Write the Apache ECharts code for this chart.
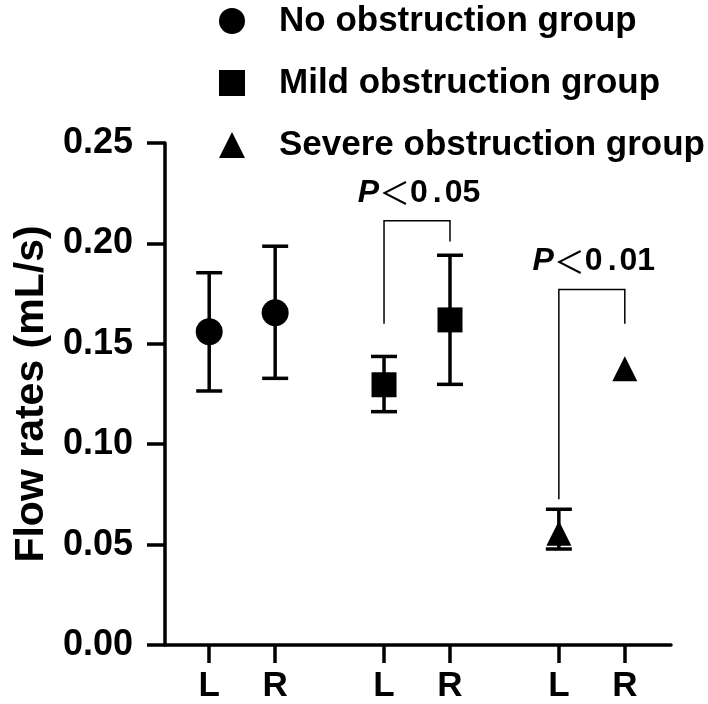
<!DOCTYPE html>
<html>
<head>
<meta charset="utf-8">
<script src="https://cdn.jsdelivr.net/npm/echarts@6/dist/echarts.min.js"></script>
<style>
  html, body { margin: 0; padding: 0; background: #fff; }
  #chart { width: 708px; height: 704px; }
</style>
</head>
<body>
<div id="chart"></div>
<script>
// x positions of the six L/R columns (three groups with a gap between them)
const sides = ["L", "R", "L", "R", "L", "R"];
const xPos = [1, 2, 3.65, 4.65, 6.3, 7.3];
const yTicks = [0, 0.05, 0.1, 0.15, 0.2, 0.25];

const groupNames = ["No obstruction group", "Mild obstruction group", "Severe obstruction group"];
const groupSymbols = ["circle", "rect", "triangle"];

// mean and error bar ends for L / R
const noMean = [0.156, 0.1655];
const noLow = [0.1265, 0.1328];
const noHigh = [0.1854, 0.1986];

const mildMean = [0.1296, 0.1619];
const mildLow = [0.1162, 0.1298];
const mildHigh = [0.1437, 0.1941];

const severeMean = [0.0556, 0.1376];
const severeLow = [0.0478, null];
const severeHigh = [0.0676, null];

// significance brackets: [left col, right col], top, left leg end, right leg end
const sigLabels = ["0.05", "0.01"];
const sigCols = [[2, 3], [4, 5]];
const sigTop = [0.2113, 0.177];
const sigLeftEnd = [0.16, 0.0726];
const sigRightEnd = [0.201, 0.16];

const FONT = "'Liberation Sans', Arial, Helvetica, sans-serif";

let means = [noMean, mildMean, severeMean];
let lows = [noLow, mildLow, severeLow];
let highs = [noHigh, mildHigh, severeHigh];

let errData = [];
let series = [];
means.forEach(function (m, g) {
  let pts = m.map(function (v, i) { return [xPos[g * 2 + i], v]; });
  series.push({
    name: groupNames[g],
    type: "scatter",
    symbol: groupSymbols[g],
    symbolSize: g === 0 ? 27 : 25,
    itemStyle: { color: "#000", opacity: 1 },
    data: pts,
    z: 3,
  });
  m.forEach(function (v, i) {
    if (lows[g][i] != null) errData.push([xPos[g * 2 + i], lows[g][i], highs[g][i]]);
  });
});

series.push({
  type: "custom",
  name: "err",
  data: errData,
  z: 2,
  renderItem: function (params, api) {
    let x = api.value(0);
    let lo = api.coord([x, api.value(1)]);
    let hi = api.coord([x, api.value(2)]);
    let w = 13;
    let st = { stroke: "#000", lineWidth: 3.5 };
    return {
      type: "group",
      children: [
        { type: "line", shape: { x1: lo[0], y1: lo[1], x2: hi[0], y2: hi[1] }, style: st },
        { type: "line", shape: { x1: hi[0] - w, y1: hi[1], x2: hi[0] + w, y2: hi[1] }, style: st },
        { type: "line", shape: { x1: lo[0] - w, y1: lo[1], x2: lo[0] + w, y2: lo[1] }, style: st },
      ],
    };
  },
});

let sigData = sigLabels.map(function (s, i) {
  return [xPos[sigCols[i][0]], xPos[sigCols[i][1]], sigTop[i], sigLeftEnd[i], sigRightEnd[i]];
});

series.push({
  type: "custom",
  name: "sig",
  data: sigData,
  z: 2,
  renderItem: function (params, api) {
    let xl = api.value(0), xr = api.value(1);
    let a = api.coord([xl, api.value(3)]);
    let b = api.coord([xl, api.value(2)]);
    let c = api.coord([xr, api.value(2)]);
    let d = api.coord([xr, api.value(4)]);
    let p = sigLabels[params.dataIndex].split(".");
    return {
      type: "group",
      children: [
        {
          type: "polyline",
          shape: { points: [a, b, c, d] },
          style: { stroke: "#000", lineWidth: 1.5, fill: null },
        },
        {
          type: "text",
          x: (b[0] + c[0]) / 2 + 2,
          y: b[1] - 12,
          style: {
            text: "{p|P}{lt|＜}{n|" + p[0] + "}{d|.}{n|" + p[1] + "}",
            align: "center",
            verticalAlign: "bottom",
            rich: {
              p: { fontFamily: FONT, fontSize: 32, fontWeight: "bold", fontStyle: "italic", fill: "#000" },
              lt: { fontFamily: "Noto Sans CJK SC", fontSize: 31, fill: "#000" },
              n: { fontFamily: FONT, fontSize: 32, fontWeight: "bold", fill: "#000" },
              d: { fontFamily: FONT, fontSize: 32, fontWeight: "bold", fill: "#000", padding: [0, 3, 0, 5] },
            },
          },
        },
      ],
    };
  },
});

let chart = echarts.init(document.getElementById("chart"));
chart.setOption({
  backgroundColor: "#fff",
  animation: false,
  legend: {
    data: groupNames,
    orient: "vertical",
    left: 214,
    top: -2,
    itemWidth: 26,
    itemHeight: 26,
    itemGap: 26,
    textStyle: {
      fontFamily: FONT,
      fontSize: 35,
      fontWeight: "bold",
      color: "#000",
      lineHeight: 36,
      padding: [0, 0, 0, 29],
    },
  },
  grid: { left: 165, right: 37, top: 143, bottom: 57 },
  xAxis: {
    type: "value",
    min: 0.33,
    max: 8.0,
    splitLine: { show: false },
    axisLine: { show: true, lineStyle: { color: "#000", width: 3.5 } },
    axisTick: { show: true, customValues: xPos, length: 18, lineStyle: { color: "#000", width: 3.5 } },
    axisLabel: {
      customValues: xPos,
      margin: 24,
      fontFamily: FONT,
      fontSize: 35,
      fontWeight: "bold",
      color: "#000",
      formatter: function (v) {
        let best = 0;
        xPos.forEach(function (x, i) {
          if (Math.abs(x - v) < Math.abs(xPos[best] - v)) best = i;
        });
        return sides[best];
      },
    },
  },
  yAxis: {
    type: "value",
    min: 0,
    max: 0.25,
    interval: 0.05,
    name: "Flow rates (mL/s)",
    nameLocation: "middle",
    nameGap: 86,
    nameTextStyle: { fontFamily: FONT, fontSize: 41, fontWeight: "bold", color: "#000" },
    splitLine: { show: false },
    axisLine: { show: true, lineStyle: { color: "#000", width: 3.5 } },
    axisTick: { show: true, length: 18, lineStyle: { color: "#000", width: 3.5 } },
    axisLabel: {
      margin: 32,
      fontFamily: FONT,
      fontSize: 36,
      fontWeight: "bold",
      color: "#000",
      formatter: function (v) { return v.toFixed(2); },
    },
  },
  series: series,
});
</script>
</body>
</html>
